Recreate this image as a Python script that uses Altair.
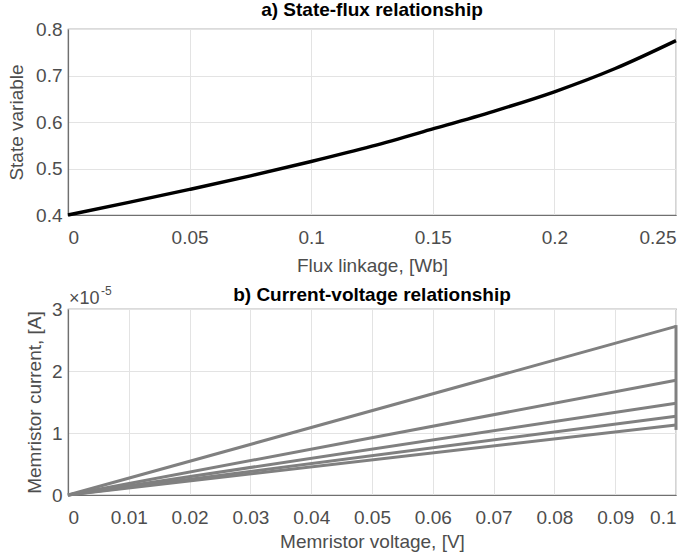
import altair as alt
import pandas as pd

# ---- Panel a data ----
flux = [0.0, 0.025, 0.05, 0.075, 0.1, 0.125, 0.15, 0.175, 0.2, 0.225, 0.25]
state = [0.400, 0.427, 0.455, 0.484, 0.515, 0.548, 0.585, 0.623, 0.665, 0.715, 0.775]

# ---- Panel b data (current in units of 1e-5 A) ----
v_start = [0.0, 0.0, 0.0, 0.0, 0.0]
v_end = [0.1, 0.1, 0.1, 0.1, 0.1]
i_end = [2.72, 1.85, 1.48, 1.27, 1.13]
vert_v = [0.1, 0.1]
vert_i = [1.05, 2.74]

x_ticks_a = [0, 0.05, 0.1, 0.15, 0.2, 0.25]
y_ticks_a = [0.4, 0.5, 0.6, 0.7, 0.8]
x_ticks_b = [0, 0.01, 0.02, 0.03, 0.04, 0.05, 0.06, 0.07, 0.08, 0.09, 0.1]
y_ticks_b = [0, 1, 2, 3]

FONT = "Liberation Sans"
LABEL_COLOR = "#4d4d4d"
W, H = 608, 186

df_a = pd.DataFrame({"flux": flux, "state": state})

rows = []
for k, (a, b, c) in enumerate(zip(v_start, v_end, i_end)):
    rows.append({"series": f"s{k}", "ord": 0, "v": a, "i": 0.0})
    rows.append({"series": f"s{k}", "ord": 1, "v": b, "i": c})
for j, (vv, ii) in enumerate(zip(vert_v, vert_i)):
    rows.append({"series": "vert", "ord": j, "v": vv, "i": ii})
df_b = pd.DataFrame(rows)


def axis(values, title, fmt="~g", grid=True, title_pad=8, label_pad=6):
    return alt.Axis(
        values=values, title=title, format=fmt, grid=grid,
        gridColor="#e3e3e3", gridWidth=1, ticks=False,
        domainColor="#707070", domainWidth=1.2,
        labelFont=FONT, labelFontSize=19, labelColor=LABEL_COLOR, labelPadding=label_pad,
        titleFont=FONT, titleFontSize=19, titleColor=LABEL_COLOR, titleFontWeight="normal",
        titlePadding=title_pad,
    )


top = alt.Chart(df_a).mark_line(color="black", strokeWidth=3.4, interpolate="monotone").encode(
    x=alt.X("flux:Q", scale=alt.Scale(domain=[0, 0.25], nice=False),
            axis=axis(x_ticks_a, "Flux linkage, [Wb]", title_pad=9, label_pad=13)),
    y=alt.Y("state:Q", scale=alt.Scale(domain=[0.4, 0.8], nice=False, zero=False),
            axis=axis(y_ticks_a, "State variable", title_pad=9)),
).properties(
    width=W, height=H,
    title=alt.TitleParams("a) State-flux relationship", font=FONT, fontSize=19,
                          fontWeight="bold", color="black", offset=0),
)

lines_b = alt.Chart(df_b).mark_line(color="#808080", strokeWidth=3).encode(
    x=alt.X("v:Q", scale=alt.Scale(domain=[0, 0.1], nice=False),
            axis=axis(x_ticks_b, "Memristor voltage, [V]", title_pad=5, label_pad=13)),
    y=alt.Y("i:Q", scale=alt.Scale(domain=[0, 3], nice=False),
            axis=axis(y_ticks_b, "Memristor current, [A]", title_pad=7)),
    detail="series:N",
    order="ord:Q",
)

exp_base = alt.Chart(pd.DataFrame({"t": ["×10"]})).mark_text(
    align="left", baseline="alphabetic", font=FONT, fontSize=18, color=LABEL_COLOR
).encode(text="t:N", x=alt.value(1), y=alt.value(-5))

exp_sup = alt.Chart(pd.DataFrame({"t": ["-5"]})).mark_text(
    align="left", baseline="alphabetic", font=FONT, fontSize=12, color=LABEL_COLOR
).encode(text="t:N", x=alt.value(33), y=alt.value(-14))

bottom = alt.layer(lines_b, exp_base, exp_sup).properties(
    width=W, height=H,
    title=alt.TitleParams("b) Current-voltage relationship", font=FONT, fontSize=19,
                          fontWeight="bold", color="black", offset=-20),
)

chart = alt.vconcat(top, bottom, spacing=8).configure_view(
    stroke="#707070", strokeWidth=1.2
).properties(padding={"left": 6, "top": 0, "right": 0, "bottom": 0}, background="white")

chart.save("out.html", embed_options={"renderer": "svg", "actions": False})
